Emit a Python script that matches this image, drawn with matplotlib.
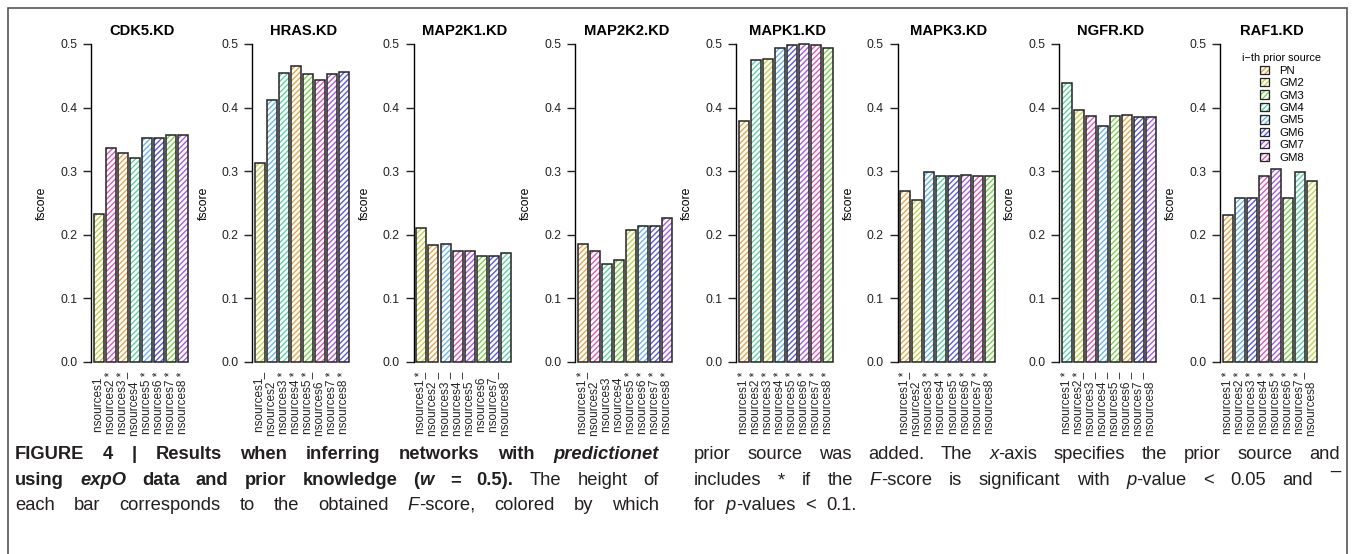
import matplotlib
matplotlib.use("Agg")
import matplotlib.pyplot as plt
from matplotlib.patches import Patch, Rectangle
from matplotlib import font_manager

# prior sources and their hatch colours
sources = ["PN", "GM2", "GM3", "GM4", "GM5", "GM6", "GM7", "GM8"]
source_colors = ["#E6A84A", "#C2D44A", "#7ED24E", "#5ED2A4",
                 "#6CB6EE", "#5A5AE6", "#A95AE8", "#DE5AB8"]

panels = ["CDK5.KD", "HRAS.KD", "MAP2K1.KD", "MAP2K2.KD",
          "MAPK1.KD", "MAPK3.KD", "NGFR.KD", "RAF1.KD"]

# fscore per nsources step, source added at each step, significance mark
cdk5_scores = [0.233, 0.337, 0.329, 0.321, 0.352, 0.352, 0.357, 0.357]
cdk5_added = ["GM2", "GM8", "PN", "GM4", "GM5", "GM6", "GM3", "GM7"]
cdk5_sig = ["", "*", "*", "¯", "*", "*", "*", "*"]

hras_scores = [0.312, 0.412, 0.454, 0.465, 0.452, 0.443, 0.452, 0.456]
hras_added = ["GM2", "GM5", "GM4", "PN", "GM3", "GM8", "GM7", "GM6"]
hras_sig = ["", "¯", "*", "*", "*", "¯", "*", "*"]

map2k1_scores = [0.211, 0.184, 0.185, 0.175, 0.175, 0.167, 0.166, 0.171]
map2k1_added = ["GM2", "PN", "GM5", "GM8", "GM7", "GM3", "GM6", "GM4"]
map2k1_sig = ["*", "¯", "¯", "¯", "¯", "", "", "¯"]

map2k2_scores = [0.186, 0.175, 0.153, 0.160, 0.208, 0.214, 0.214, 0.226]
map2k2_added = ["PN", "GM8", "GM4", "GM3", "GM2", "GM5", "GM6", "GM7"]
map2k2_sig = ["*", "¯", "", "", "*", "*", "*", "*"]

mapk1_scores = [0.379, 0.475, 0.477, 0.494, 0.499, 0.500, 0.498, 0.493]
mapk1_added = ["PN", "GM4", "GM2", "GM5", "GM6", "GM7", "GM8", "GM3"]
mapk1_sig = ["*", "*", "*", "*", "*", "*", "*", "*"]

mapk3_scores = [0.269, 0.255, 0.299, 0.293, 0.293, 0.294, 0.292, 0.293]
mapk3_added = ["PN", "GM2", "GM5", "GM4", "GM6", "GM7", "GM8", "GM3"]
mapk3_sig = ["*", "¯", "*", "*", "*", "*", "*", "*"]

ngfr_scores = [0.439, 0.396, 0.386, 0.371, 0.386, 0.389, 0.385, 0.385]
ngfr_added = ["GM4", "GM2", "GM8", "GM5", "GM3", "PN", "GM6", "GM7"]
ngfr_sig = ["*", "*", "¯", "¯", "¯", "¯", "¯", "¯"]

raf1_scores = [0.231, 0.258, 0.258, 0.293, 0.304, 0.257, 0.298, 0.284]
raf1_added = ["PN", "GM5", "GM6", "GM8", "GM7", "GM3", "GM4", "GM2"]
raf1_sig = ["*", "*", "*", "*", "*", "*", "*", "¯"]

panel_data = [
    (cdk5_scores, cdk5_added, cdk5_sig),
    (hras_scores, hras_added, hras_sig),
    (map2k1_scores, map2k1_added, map2k1_sig),
    (map2k2_scores, map2k2_added, map2k2_sig),
    (mapk1_scores, mapk1_added, mapk1_sig),
    (mapk3_scores, mapk3_added, mapk3_sig),
    (ngfr_scores, ngfr_added, ngfr_sig),
    (raf1_scores, raf1_added, raf1_sig),
]

W, H = 1355, 554
plt.rcParams["font.family"] = "Liberation Sans"
plt.rcParams["hatch.linewidth"] = 1.0
color_of = dict(zip(sources, source_colors))

fig = plt.figure(figsize=(W / 100, H / 100), dpi=100)

# border round the figure (bottom edge runs off the picture)
fig.patches.append(Rectangle((8 / W, -10 / H), 1339 / W, (H + 2) / H,
                             transform=fig.transFigure, fill=False,
                             edgecolor="#555555", linewidth=1.2))

xpos = [0.7 + 1.2 * i for i in range(8)]
axes = []
for k, (name, (scores, added, sig)) in enumerate(zip(panels, panel_data)):
    left = 91 + 161.3 * k
    ax = fig.add_axes([left / W, 1 - 361.7 / H, 103 / W, 317.7 / H])
    cols = [color_of[s] for s in added]
    ax.bar(xpos, scores, width=1, color="white", edgecolor=cols,
           hatch="//////", linewidth=0, clip_on=False)
    ax.bar(xpos, scores, width=1, fill=False, edgecolor="#222222",
           linewidth=1.1, clip_on=False)
    ax.set_xlim(-0.08, 10.18)
    ax.set_ylim(0, 0.5)
    for s in ["top", "right", "bottom"]:
        ax.spines[s].set_visible(False)
    ax.spines["left"].set_bounds(0, 0.5)
    ax.spines["left"].set_linewidth(1.0)
    ax.set_yticks([0, 0.1, 0.2, 0.3, 0.4, 0.5])
    ax.set_yticklabels(["0.0", "0.1", "0.2", "0.3", "0.4", "0.5"])
    ax.tick_params(axis="y", length=5.8, width=1.0, pad=4, labelsize=8.7,
                   colors="#222222")
    ax.set_xticks(xpos)
    ax.set_xticklabels([f"nsources{i + 1} " + (m if m else "\u00a0")
                        for i, m in enumerate(sig)], rotation=90)
    ax.tick_params(axis="x", length=0, pad=7, labelsize=8.5, colors="#222222")
    ax.set_title(name, fontsize=10.6, fontweight="bold", pad=6.5)
    ax.set_ylabel("fscore", fontsize=8.8, va="center")
    ax.yaxis.set_label_coords((42 - 91) / 103, 0.5)
    axes.append(ax)

handles = [(Patch(facecolor="white", edgecolor=c, hatch="//////", linewidth=0),
            Patch(fill=False, edgecolor="#222222", linewidth=0.9))
           for c in source_colors]
axes[-1].legend(handles, sources, title="i\u2212th prior source",
                loc="upper center", bbox_to_anchor=(0.60, 0.985),
                borderaxespad=0, frameon=False, fontsize=8.2,
                title_fontsize=7.8, handlelength=0.75, handleheight=0.75,
                handletextpad=0.9, labelspacing=0.2)

# caption, justified in two columns
names = {f.name for f in font_manager.fontManager.ttflist}
cap_font = "Liberation Sans Narrow" if "Liberation Sans Narrow" in names else "Liberation Sans"

B, N = "bold", "normal"
left_lines = [
    [("FIGURE 4 | Results when inferring networks with ", B, N), ("predictionet", B, "italic")],
    [("using ", B, N), ("expO", B, "italic"), (" data and prior knowledge (", B, N),
     ("w", B, "italic"), (" = 0.5).", B, N), (" The height of", N, N)],
    [("each bar corresponds to the obtained ", N, N), ("F", N, "italic"),
     ("-score, colored by which", N, N)],
]
right_lines = [
    [("prior source was added. The ", N, N), ("x", N, "italic"),
     ("-axis specifies the prior source and", N, N)],
    [("includes * if the ", N, N), ("F", N, "italic"), ("-score is significant with ", N, N),
     ("p", N, "italic"), ("-value < 0.05 and ¯", N, N)],
    [("for ", N, N), ("p", N, "italic"), ("-values < 0.1.", N, N)],
]
baselines = [459, 485, 510]


def to_words(segments):
    words = [[]]
    for text, wt, st in segments:
        for j, p in enumerate(text.split(" ")):
            if j > 0:
                words.append([])
            if p:
                words[-1].append((p, wt, st))
    return [w for w in words if w]


renderer = fig.canvas.get_renderer()


def make_line(segments, size):
    placed = []
    for word in to_words(segments):
        pieces = []
        for txt, wt, st in word:
            t = fig.text(0, 0, txt, fontsize=size, fontweight=wt, fontstyle=st,
                         family=cap_font, color="#231f20", va="baseline", ha="left")
            pieces.append((t, t.get_window_extent(renderer).width))
        placed.append(pieces)
    return placed


# pick a caption size so the tightest justified line keeps a normal word gap
probe = 12.0
scale = 10.0
for seg, width in [(s, 644) for s in left_lines] + [(s, 646) for s in right_lines[:2]]:
    line = make_line(seg, probe)
    total = sum(w for pieces in line for _, w in pieces)
    natural = total + (len(line) - 1) * probe * 100 / 72 * 0.4
    scale = min(scale, width / natural)
    for pieces in line:
        for t, _ in pieces:
            t.remove()
cap_size = min(probe * scale, 13.2)


def draw_line(segments, x0, x1, y, justify):
    placed = make_line(segments, cap_size)
    total = sum(w for pieces in placed for _, w in pieces)
    if justify and len(placed) > 1:
        gap = (x1 - x0 - total) / (len(placed) - 1)
    else:
        gap = cap_size * 100 / 72 * 0.55
    x = x0
    for pieces in placed:
        for t, w in pieces:
            t.set_position((x / W, 1 - y / H))
            x += w
        x += gap


for i, seg in enumerate(left_lines):
    draw_line(seg, 15, 659, baselines[i], True)
for i, seg in enumerate(right_lines):
    draw_line(seg, 694, 1340, baselines[i], i < 2)

fig.savefig("out.png", dpi=100)
